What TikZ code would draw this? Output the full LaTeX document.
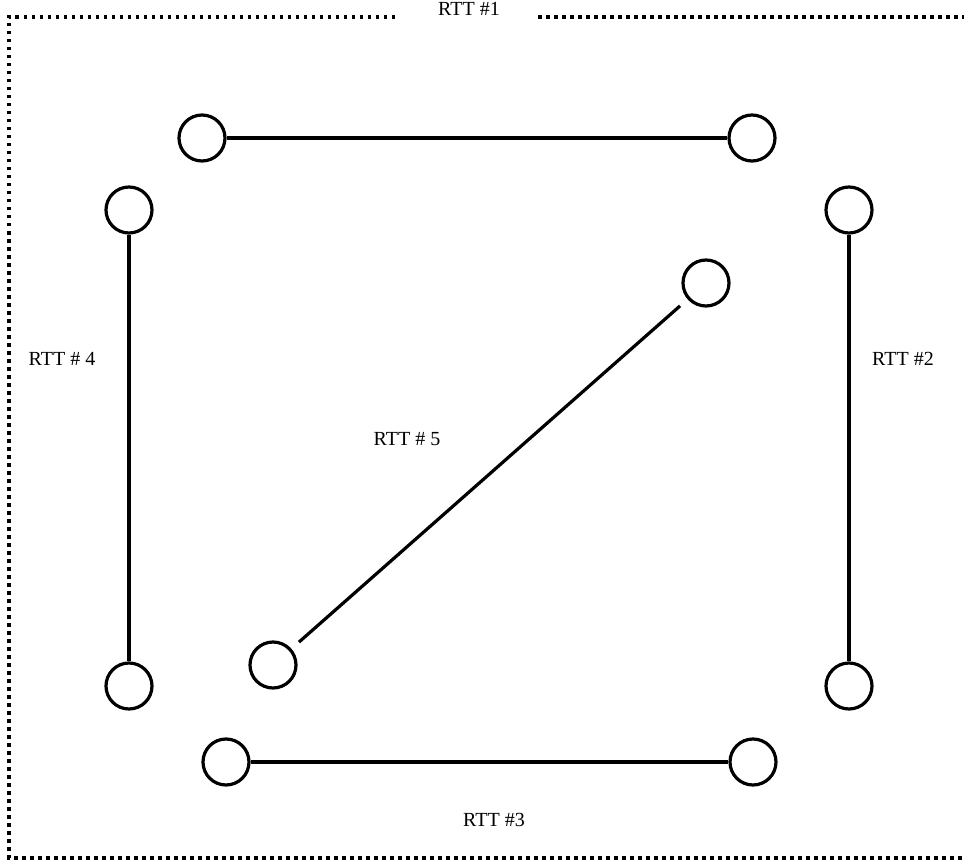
\documentclass[tikz,border=0pt]{standalone}
\usepackage{fontspec}
\setmainfont{Liberation Serif}
\begin{document}
\begin{tikzpicture}[x=1pt,y=-1pt,
  host/.style={circle,draw,line width=3.2pt,minimum size=46pt,inner sep=0pt},
  link/.style={line width=3.2pt},
  frame/.style={line width=3.5pt,dash pattern=on 3.5pt off 4.5pt},
  lbl/.style={font=\fontsize{20}{22}\selectfont,inner sep=0pt}]
\useasboundingbox (0,0) rectangle (964,861);
\node[host] (a1) at (202,138) {};
\node[host] (a2) at (752,138) {};
\node[host] (b1) at (129,210) {};
\node[host] (b2) at (129,686) {};
\node[host] (c1) at (849,210) {};
\node[host] (c2) at (849,686) {};
\node[host] (d1) at (706,283) {};
\node[host] (d2) at (273,665) {};
\node[host] (e1) at (226,762) {};
\node[host] (e2) at (753,762) {};
\draw[link] (a1) -- (a2);
\draw[link] (b1) -- (b2);
\draw[link] (c1) -- (c2);
\draw[link] (e1) -- (e2);
\draw[link,shorten <=10pt,shorten >=10pt] (d1) -- (d2);
\coordinate (t1) at (395,17);
\coordinate (t2) at (538,17);
\coordinate (tl) at (9,17);
\coordinate (bl) at (9,858);
\coordinate (br) at (964,858);
\coordinate (tr) at (964,17);
\draw[frame] (t1) -- (tl) -- (bl) -- (br);
\draw[frame] (t2) -- (tr);
\node[lbl] (l1) at (469,9) {RTT \#1};
\node[lbl] (l2) at (903,359) {RTT \#2};
\node[lbl] (l3) at (494,820) {RTT \#3};
\node[lbl] (l4) at (62,359) {RTT \# 4};
\node[lbl] (l5) at (407,439) {RTT \# 5};
\end{tikzpicture}
\end{document}
